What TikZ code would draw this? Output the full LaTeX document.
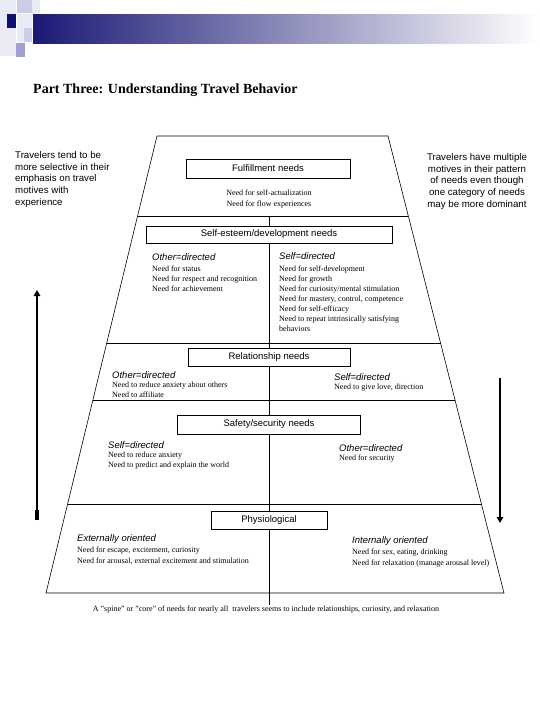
\documentclass[tikz,border=0pt]{standalone}
\usepackage{fontspec}
\setmainfont{Liberation Serif}
\setsansfont{Liberation Sans}
\usetikzlibrary{arrows.meta,calc}
\definecolor{navyA}{RGB}{26,26,118}
\definecolor{navyB}{RGB}{16,16,110}
\definecolor{lavA}{RGB}{234,234,245}
\definecolor{lavB}{RGB}{204,204,230}
\definecolor{lavC}{RGB}{160,160,208}
\definecolor{lavM}{RGB}{150,150,190}
\begin{document}
\begin{tikzpicture}[x=1pt,y=-1pt,
  needbox/.style={draw,line width=0.6pt,fill=white,font=\sffamily\fontsize{9.5}{11}\selectfont,inner sep=0pt},
  needs/.style={font=\rmfamily\fontsize{8}{10}\selectfont,align=left,inner sep=0pt,anchor=north west},
  orient/.style={font=\sffamily\itshape\fontsize{9.5}{11}\selectfont,inner sep=0pt,anchor=west},
  note/.style={font=\sffamily\fontsize{9.7}{11.8}\selectfont,inner sep=0pt},
  trapline/.style={line width=0.6pt},
  bigarrow/.style={line width=2.2pt,-{Triangle[length=6pt,width=6.5pt]}}]
\useasboundingbox (0,0) rectangle (540,720);
% decoration
\fill[lavA] (0,0) rectangle (16,56);
\fill[lavB] (17,0) rectangle (32,13);
\fill[lavA] (32,0) rectangle (40,13);
\fill[navyB] (7,14) rectangle (16,28);
\fill[lavA] (17,14) rectangle (32,28);
\fill[lavA] (17,28) rectangle (24,42);
\fill[lavB] (24,28) rectangle (32,42);
\fill[lavC] (16,43) rectangle (25,57);
\shade[left color=navyA, middle color=lavM, right color=white] (33,14) rectangle (540,43);
% title
\node[anchor=base west,font=\rmfamily\bfseries\fontsize{14}{16}\selectfont,inner sep=0pt] (title) at (33,93) {Part Three: Understanding Travel Behavior};
% side notes
\node[note,anchor=north west,align=left] (lnote) at (15,151) {Travelers tend to be\\more selective in their\\emphasis on travel\\motives with\\experience};
\node[note,anchor=north,align=center] (rnote) at (477,153) {Travelers have multiple\\motives in their pattern\\of needs even though\\one category of needs\\may be more dominant};
% trapezoid
\coordinate (TL) at (157,136);
\coordinate (TR) at (388,136);
\coordinate (BR) at (504,593);
\coordinate (BL) at (46,593);
\draw[trapline] (TL) -- (TR) -- (BR) -- (BL) -- cycle;
\coordinate (h1l) at ($(TL)!0.1751!(BL)$);
\coordinate (h1r) at ($(TR)!0.1751!(BR)$);
\coordinate (h2l) at ($(TL)!0.4530!(BL)$);
\coordinate (h2r) at ($(TR)!0.4530!(BR)$);
\coordinate (h3l) at ($(TL)!0.5777!(BL)$);
\coordinate (h3r) at ($(TR)!0.5777!(BR)$);
\coordinate (h4l) at ($(TL)!0.8053!(BL)$);
\coordinate (h4r) at ($(TR)!0.8053!(BR)$);
\draw[trapline] (h1l) -- (h1r);
\draw[trapline] (h2l) -- (h2r);
\draw[trapline] (h3l) -- (h3r);
\draw[trapline] (h4l) -- (h4r);
% boxes
\node[needbox,minimum width=164pt,minimum height=19pt] (ful) at (268,168.5) {Fulfillment needs};
\node[needbox,minimum width=246pt,minimum height=17pt] (se) at (269,234.5) {Self-esteem/development needs};
\node[needbox,minimum width=162pt,minimum height=18pt] (rel) at (269,357.5) {Relationship needs};
\node[needbox,minimum width=183pt,minimum height=19pt] (saf) at (269,424.5) {Safety/security needs};
\node[needbox,minimum width=116pt,minimum height=18pt] (phy) at (269,520.5) {Physiological};
% divider
\coordinate (dtop) at (269,216);
\coordinate (dbot) at (269,605);
\draw[trapline] (dtop) -- (se.north);
\draw[trapline] (se.south) -- (rel.north);
\draw[trapline] (rel.south) -- (saf.north);
\draw[trapline] (saf.south) -- (phy.north);
\draw[trapline] (phy.south) -- (dbot);
% fulfillment
\node[font=\rmfamily\fontsize{8}{11}\selectfont,align=center,inner sep=0pt,anchor=north] (fneeds) at (269,189.5) {Need for self-actualization\\Need for flow experiences};
% self-esteem
\node[orient] (o1) at (152,257) {Other=directed};
\node[needs] (n1) at (152,265.5) {Need for status\\Need for respect and recognition\\Need for achievement};
\node[orient] (s1) at (279,256) {Self=directed};
\node[needs] (n2) at (279,265.5) {Need for self-development\\Need for growth\\Need for curiosity/mental stimulation\\Need for mastery, control, competence\\Need for self-efficacy\\Need to repeat intrinsically satisfying\\behaviors};
% relationship
\node[orient] (o2) at (112,375) {Other=directed};
\node[needs,font=\rmfamily\fontsize{8}{10.5}\selectfont] (n3) at (112,381.5) {Need to reduce anxiety about others\\Need to affiliate};
\node[orient] (s2) at (334,377) {Self=directed};
\node[needs] (n4) at (334,383.5) {Need to give love, direction};
% safety
\node[orient] (s3) at (108,445) {Self=directed};
\node[needs] (n5) at (108,451.5) {Need to reduce anxiety\\Need to predict and explain the world};
\node[orient] (o3) at (339,448) {Other=directed};
\node[needs] (n6) at (339,454.5) {Need for security};
% physiological
\node[orient] (e1) at (77,539) {Externally oriented};
\node[needs,font=\rmfamily\fontsize{8}{11}\selectfont] (n7) at (77,546.5) {Need for escape, excitement, curiosity\\Need for arousal, external excitement and stimulation};
\node[orient] (i1) at (352,541) {Internally oriented};
\node[needs,font=\rmfamily\fontsize{8}{11}\selectfont] (n8) at (352,548.5) {Need for sex, eating, drinking\\Need for relaxation (manage arousal level)};
% spine
\node[font=\rmfamily\fontsize{8}{10}\selectfont,inner sep=0pt] (spine) at (266,610) {A "spine" or "core" of needs for nearly all\ \ travelers seems to include relationships, curiosity, and relaxation};
% arrows
\coordinate (la1) at (37,519);
\coordinate (la2) at (37,290);
\draw[bigarrow] (la1) -- (la2);
\coordinate (ls1) at (37,520);
\coordinate (ls2) at (37,510);
\draw[line width=3.6pt] (ls1) -- (ls2);
\coordinate (ra1) at (500,378);
\coordinate (ra2) at (500,523);
\draw[bigarrow] (ra1) -- (ra2);
\end{tikzpicture}
\end{document}
